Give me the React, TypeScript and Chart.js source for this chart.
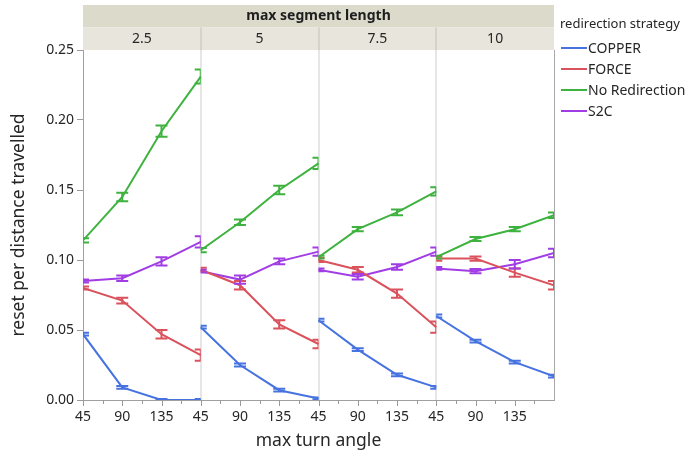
import React, { useEffect, useRef } from "react";
import { Chart, registerables } from "chart.js";

Chart.register(...registerables);

// facets (max segment length) and categories (max turn angle)
const panels = ["2.5", "5", "7.5", "10"];
const angles = ["45", "90", "135", "180"];
const strategies = ["COPPER", "FORCE", "No Redirection", "S2C"];
const colors = ["#4673e0", "#d9525c", "#3eb23e", "#a13de4"];

// values per panel in order 2.5, 5, 7.5, 10 (each 4 angles)
const copper = [0.047, 0.009, 0.0, 0.0, 0.052, 0.025, 0.007, 0.001, 0.057, 0.036, 0.018, 0.009, 0.06, 0.042, 0.027, 0.017];
const force = [0.08, 0.071, 0.047, 0.032, 0.093, 0.082, 0.054, 0.04, 0.1, 0.093, 0.076, 0.052, 0.101, 0.101, 0.091, 0.082];
const noRedirection = [0.114, 0.145, 0.192, 0.231, 0.107, 0.127, 0.15, 0.169, 0.102, 0.122, 0.134, 0.149, 0.102, 0.115, 0.122, 0.132];
const s2c = [0.085, 0.087, 0.099, 0.113, 0.092, 0.086, 0.099, 0.106, 0.093, 0.088, 0.095, 0.106, 0.094, 0.092, 0.097, 0.105];

// half-widths of error bars
const copperErr = [0.001, 0.001, 0.0008, 0.0008, 0.001, 0.001, 0.001, 0.0008, 0.001, 0.001, 0.001, 0.001, 0.001, 0.001, 0.001, 0.001];
const forceErr = [0.001, 0.002, 0.003, 0.004, 0.0015, 0.003, 0.003, 0.003, 0.0015, 0.002, 0.003, 0.004, 0.0015, 0.0015, 0.003, 0.003];
const noRedirectionErr = [0.0015, 0.003, 0.004, 0.005, 0.0015, 0.002, 0.003, 0.004, 0.001, 0.0015, 0.002, 0.003, 0.001, 0.0015, 0.0015, 0.002];
const s2cErr = [0.001, 0.002, 0.003, 0.004, 0.001, 0.003, 0.002, 0.003, 0.001, 0.002, 0.002, 0.003, 0.001, 0.0015, 0.003, 0.003];

const yTicks = [0, 0.05, 0.1, 0.15, 0.2, 0.25];

const FONT = "'Noto Sans', 'Open Sans', sans-serif";

const seriesValues = [copper, force, noRedirection, s2c];
const seriesErrs = [copperErr, forceErr, noRedirectionErr, s2cErr];

const facetPlugin = {
  id: "facetPlugin",
  beforeDatasetsDraw(chart: any) {
    const { ctx, chartArea } = chart;
    const x = chart.scales.x;
    // right border of the frame
    ctx.save();
    ctx.strokeStyle = "#a8a8a8";
    ctx.lineWidth = 1;
    ctx.beginPath();
    ctx.moveTo(chartArea.right + 0.5, chartArea.top);
    ctx.lineTo(chartArea.right + 0.5, chartArea.bottom);
    ctx.stroke();
    // x ticks: major at integers, minor at halves
    ctx.strokeStyle = "#9a9a9a";
    for (let v = 0; v <= panels.length * 3; v += 0.5) {
      if (v === panels.length * 3) continue;
      const px = Math.round(x.getPixelForValue(v)) + 0.5;
      const len = Number.isInteger(v) ? 6 : 4;
      ctx.beginPath();
      ctx.moveTo(px, chartArea.bottom);
      ctx.lineTo(px, chartArea.bottom + len);
      ctx.stroke();
    }
    ctx.restore();
  },
  afterDatasetsDraw(chart: any) {
    const { ctx, chartArea } = chart;
    const x = chart.scales.x;
    const y = chart.scales.y;
    // error bars, clipped to each panel
    panels.forEach((_, p) => {
      const l = x.getPixelForValue(p * 3);
      const r = x.getPixelForValue(p * 3 + 3);
      ctx.save();
      ctx.beginPath();
      ctx.rect(l, chartArea.top - 2, r - l, chartArea.bottom - chartArea.top + 2);
      ctx.clip();
      seriesValues.forEach((vals, s) => {
        ctx.strokeStyle = colors[s];
        ctx.lineWidth = 2;
        for (let i = 0; i < angles.length; i++) {
          const k = p * 4 + i;
          const cx = x.getPixelForValue(p * 3 + i);
          const lo = y.getPixelForValue(vals[k] - seriesErrs[s][k]);
          const hi = y.getPixelForValue(vals[k] + seriesErrs[s][k]);
          const hw = 6;
          ctx.beginPath();
          ctx.moveTo(cx, lo);
          ctx.lineTo(cx, hi);
          ctx.moveTo(cx - hw, lo);
          ctx.lineTo(cx + hw, lo);
          ctx.moveTo(cx - hw, hi);
          ctx.lineTo(cx + hw, hi);
          ctx.stroke();
        }
      });
      ctx.restore();
    });
  },
  afterDraw(chart: any) {
    const { ctx, chartArea } = chart;
    const x = chart.scales.x;
    const left = chartArea.left;
    const right = chartArea.right;
    ctx.save();
    // header bands
    ctx.fillStyle = "#dcdacb";
    ctx.fillRect(left, 5, right - left, 22.5);
    ctx.fillStyle = "#e8e6dc";
    ctx.fillRect(left, 27.5, right - left, chartArea.top - 27.5);
    ctx.fillStyle = "#1e1e1e";
    ctx.font = `bold 14px ${FONT}`;
    ctx.textAlign = "center";
    ctx.textBaseline = "middle";
    ctx.fillText("max segment length", (left + right) / 2, 16.5);
    ctx.font = `14px ${FONT}`;
    panels.forEach((lab, p) => {
      const l = x.getPixelForValue(p * 3);
      const r = x.getPixelForValue(p * 3 + 3);
      ctx.fillStyle = "#262626";
      ctx.fillText(lab, (l + r) / 2, 39);
      if (p > 0) {
        ctx.fillStyle = "#d6d4c8";
        ctx.fillRect(Math.round(l) - 1, 27.5, 2, chartArea.top - 27.5);
      }
    });
    // legend
    const lx = 560;
    ctx.textAlign = "left";
    ctx.fillStyle = "#262626";
    ctx.font = `13px ${FONT}`;
    ctx.fillText("redirection strategy", lx, 24);
    ctx.font = `14px ${FONT}`;
    strategies.forEach((name, i) => {
      const yy = 48 + i * 21;
      ctx.strokeStyle = colors[i];
      ctx.lineWidth = 2;
      ctx.beginPath();
      ctx.moveTo(lx + 1, yy);
      ctx.lineTo(lx + 27, yy);
      ctx.stroke();
      ctx.fillStyle = "#262626";
      ctx.fillText(name, lx + 28, yy + 1);
    });
    ctx.restore();
  },
};

export default function App() {
  const ref = useRef<HTMLCanvasElement | null>(null);
  useEffect(() => {
    document.body.style.margin = "0";
    const datasets: any[] = [];
    strategies.forEach((name, s) => {
      panels.forEach((_, p) => {
        datasets.push({
          label: name,
          data: angles.map((_, i) => ({ x: p * 3 + i, y: seriesValues[s][p * 4 + i] })),
          borderColor: colors[s],
          backgroundColor: colors[s],
          borderWidth: 2,
          pointRadius: 0,
          tension: 0,
        });
      });
    });
    const chart = new Chart(ref.current as HTMLCanvasElement, {
      type: "line",
      data: { datasets },
      plugins: [facetPlugin],
      options: {
        animation: false,
        responsive: false,
        maintainAspectRatio: false,
        layout: { padding: { top: 50, right: 143, left: 0, bottom: 0 } },
        plugins: { legend: { display: false }, tooltip: { enabled: false } },
        scales: {
          x: {
            type: "linear",
            min: 0,
            max: panels.length * 3,
            afterBuildTicks: (scale: any) => {
              const t: any[] = [];
              for (let v = 0; v <= panels.length * 3; v++) t.push({ value: v });
              scale.ticks = t;
            },
            afterFit: (scale: any) => {
              scale.height = 56;
            },
            ticks: {
              autoSkip: false,
              maxRotation: 0,
              padding: 3,
              color: "#262626",
              font: { family: FONT, size: 14 },
              callback: (v: any) => {
                const n = Number(v);
                if (n >= panels.length * 3) return "";
                return angles[n % 3];
              },
            },
            grid: {
              drawOnChartArea: true,
              drawTicks: true,
              tickLength: 6,
              tickColor: "rgba(0,0,0,0)",
              lineWidth: 2,
              color: (c: any) => {
                const v = c.tick ? c.tick.value : -1;
                return v > 0 && v < panels.length * 3 && v % 3 === 0 ? "#e6e6e6" : "rgba(0,0,0,0)";
              },
            },
            border: { display: true, color: "#a0a0a0", width: 1 },
            title: {
              display: true,
              text: "max turn angle",
              color: "#262626",
              font: { family: FONT, size: 17.5 },
              padding: { top: 2, bottom: 4 },
            },
          },
          y: {
            type: "linear",
            min: 0,
            max: 0.25,
            afterBuildTicks: (scale: any) => {
              scale.ticks = yTicks.map((v) => ({ value: v }));
            },
            afterFit: (scale: any) => {
              scale.width = 83;
            },
            ticks: {
              padding: 3,
              color: "#262626",
              font: { family: FONT, size: 14 },
              callback: (v: any) => Number(v).toFixed(2),
            },
            grid: {
              drawOnChartArea: false,
              drawTicks: true,
              tickLength: 6,
              tickColor: "#9a9a9a",
            },
            border: { display: true, color: "#a0a0a0", width: 1 },
            title: {
              display: true,
              text: "reset per distance travelled",
              color: "#262626",
              font: { family: FONT, size: 17.5 },
              padding: { top: 9, bottom: 0 },
            },
          },
        },
      },
    });
    return () => chart.destroy();
  }, []);
  return (
    <div style={{ position: "fixed", left: 0, top: 0, width: 697, height: 456, background: "#fff" }}>
      <canvas ref={ref} width={697} height={456} style={{ width: 697, height: 456, display: "block" }} />
    </div>
  );
}
